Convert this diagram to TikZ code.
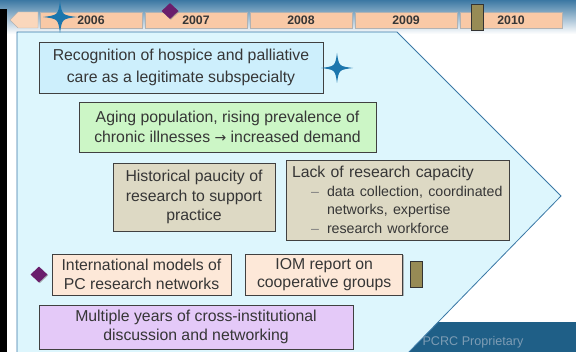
\documentclass[tikz,border=0pt]{standalone}
\usepackage{fontspec}
\setmainfont{Liberation Sans}
\newfontfamily\arrowfont{DejaVu Sans}
\usetikzlibrary{positioning,shadows,shapes.geometric}

\definecolor{headblue}{HTML}{3C78A3}
\definecolor{headlight}{HTML}{D6E4EE}
\definecolor{slideblue}{HTML}{1F5F87}
\definecolor{panelfill}{HTML}{DDF6FD}
\definecolor{paneledge}{HTML}{3A78A6}
\definecolor{yearfill}{HTML}{F9C9A6}
\definecolor{starblue}{HTML}{1C76AD}
\definecolor{markpurple}{HTML}{6A1E6C}
\definecolor{tubefill}{HTML}{978B55}
\definecolor{textgray}{HTML}{363636}
\definecolor{fillblue}{HTML}{CDEFFC}
\definecolor{fillgreen}{HTML}{CCF6C6}
\definecolor{filltan}{HTML}{DDD9C4}
\definecolor{fillpeach}{HTML}{FDE8D8}
\definecolor{filllilac}{HTML}{E4C9F8}
\definecolor{proptext}{HTML}{7D9CB4}

\newcommand\boxfont{\fontsize{15.8}{19.5}\selectfont}
\newcommand\subfont{\fontsize{14.2}{17.5}\selectfont}

\tikzset{
    yearbox/.style={draw=gray!60, fill=yearfill, minimum width=102pt, minimum height=16pt, inner sep=0pt,
        text=textgray, font=\bfseries\fontsize{12.3}{12.3}\selectfont,
        drop shadow={shadow xshift=1.3pt, shadow yshift=-1.3pt, fill=black!65, opacity=1}},
    eventbox/.style={draw=black!75, line width=0.7pt, inner sep=2pt, align=center, text=textgray, font=\boxfont,
        drop shadow={shadow xshift=0.8pt, shadow yshift=-0.8pt, fill=black!45, opacity=0.6}},
    diamondmark/.style={diamond, fill=markpurple, minimum width=17pt, minimum height=16pt, inner sep=0pt,
        drop shadow={shadow xshift=0.8pt, shadow yshift=-0.8pt, fill=black!50, opacity=0.6}},
    tubemark/.style={draw=black!80, line width=0.8pt, fill=tubefill, minimum width=12pt, minimum height=26pt, inner sep=0pt,
        drop shadow={shadow xshift=1pt, shadow yshift=-1pt, fill=black!50, opacity=0.6}},
    star4/.pic={
        \fill[starblue] (1,0) .. controls (0.12,0.12) .. (0,1) .. controls (-0.12,0.12) .. (-1,0)
            .. controls (-0.12,-0.12) .. (0,-1) .. controls (0.12,-0.12) .. cycle;
    }
}

\begin{document}
\begin{tikzpicture}[x=1pt, y=-1pt]
                \useasboundingbox (0,0) rectangle (576,352);
                \shade[top color=headblue, middle color=headlight, bottom color=white] (0,0) rectangle (576,34);
                \fill[black] (0,9) rectangle (7,352);

                \fill[slideblue] (380,322) rectangle (576,353);
                \filldraw[draw=paneledge, fill=panelfill, line width=0.8pt]
                    (17,32) -- (397,32) -- (561,196) -- (407,354) -- (17,354) -- cycle;
                \node[text=proptext, font=\fontsize{12.6}{12.6}\selectfont] (prop) at (473,342) {PCRC Proprietary};

                \filldraw[draw=gray!60, fill=yearfill!75] (10,20) -- (18,12) -- (38,12) -- (38,28) -- (18,28) -- cycle;
                \node[yearbox] (y2006) at (91,20) {2006};
                \node[yearbox, right=2.6pt of y2006] (y2007) {2007};
                \node[yearbox, right=2.6pt of y2007] (y2008) {2008};
                \node[yearbox, right=2.6pt of y2008] (y2009) {2009};
                \node[yearbox, right=2.6pt of y2009] (y2010) {2010};

                \node[eventbox, fill=fillblue, minimum width=284pt, minimum height=51pt,
                    font=\fontsize{15.8}{21.5}\selectfont] (recog) at (181,67.5)
                    {Recognition of hospice and palliative\\care as a legitimate subspecialty};
                \node[eventbox, fill=fillgreen, minimum width=297pt, minimum height=50pt] (aging) at (227.5,127)
                    {Aging population, rising prevalence of\\chronic illnesses {\arrowfont\fontsize{14}{14}\selectfont →} increased demand};
                \node[eventbox, fill=filltan, minimum width=162pt, minimum height=68pt] (paucity) at (194,197)
                    {Historical paucity of\\research to support\\practice};
                \node[eventbox, fill=filltan, minimum height=80pt, text width=217pt, inner xsep=3pt, align=left] (capacity) at (397.5,200)
                    {\hspace*{3pt}Lack of research capacity\\[1.5pt]
                    \subfont\hspace*{38pt}\llap{\textcolor{gray}{–}\hspace{8pt}}data collection, coordinated\\
                    \hspace*{38pt}networks, expertise\\
                    \hspace*{38pt}\llap{\textcolor{gray}{–}\hspace{8pt}}research workforce};
                \node[eventbox, fill=fillpeach, minimum width=179pt, minimum height=41pt,
                    font=\fontsize{15.8}{18.4}\selectfont] (models) at (141.5,274.5)
                    {International models of\\PC research networks};
                \node[eventbox, fill=fillpeach, minimum width=157pt, minimum height=41pt,
                    font=\fontsize{15.8}{18.4}\selectfont, right=14pt of models] (iom)
                    {IOM report on\\cooperative groups};
                \node[eventbox, fill=filllilac, minimum width=314pt, minimum height=44pt] (years) at (196,327)
                    {Multiple years of cross-institutional\\discussion and networking};

                \pic[xscale=17, yscale=16] at (60,17) {star4};
                \pic[xscale=16, yscale=15] at (337,68) {star4};
                \node[diamondmark] (mark2007) at (170,11) {};
                \node[diamondmark, left=4pt of models] (markmodels) {};
                \node[tubemark] (tube2010) at (477,17) {};
                \node[tubemark, right=7pt of iom] (tubeiom) {};
\end{tikzpicture}
\end{document}
